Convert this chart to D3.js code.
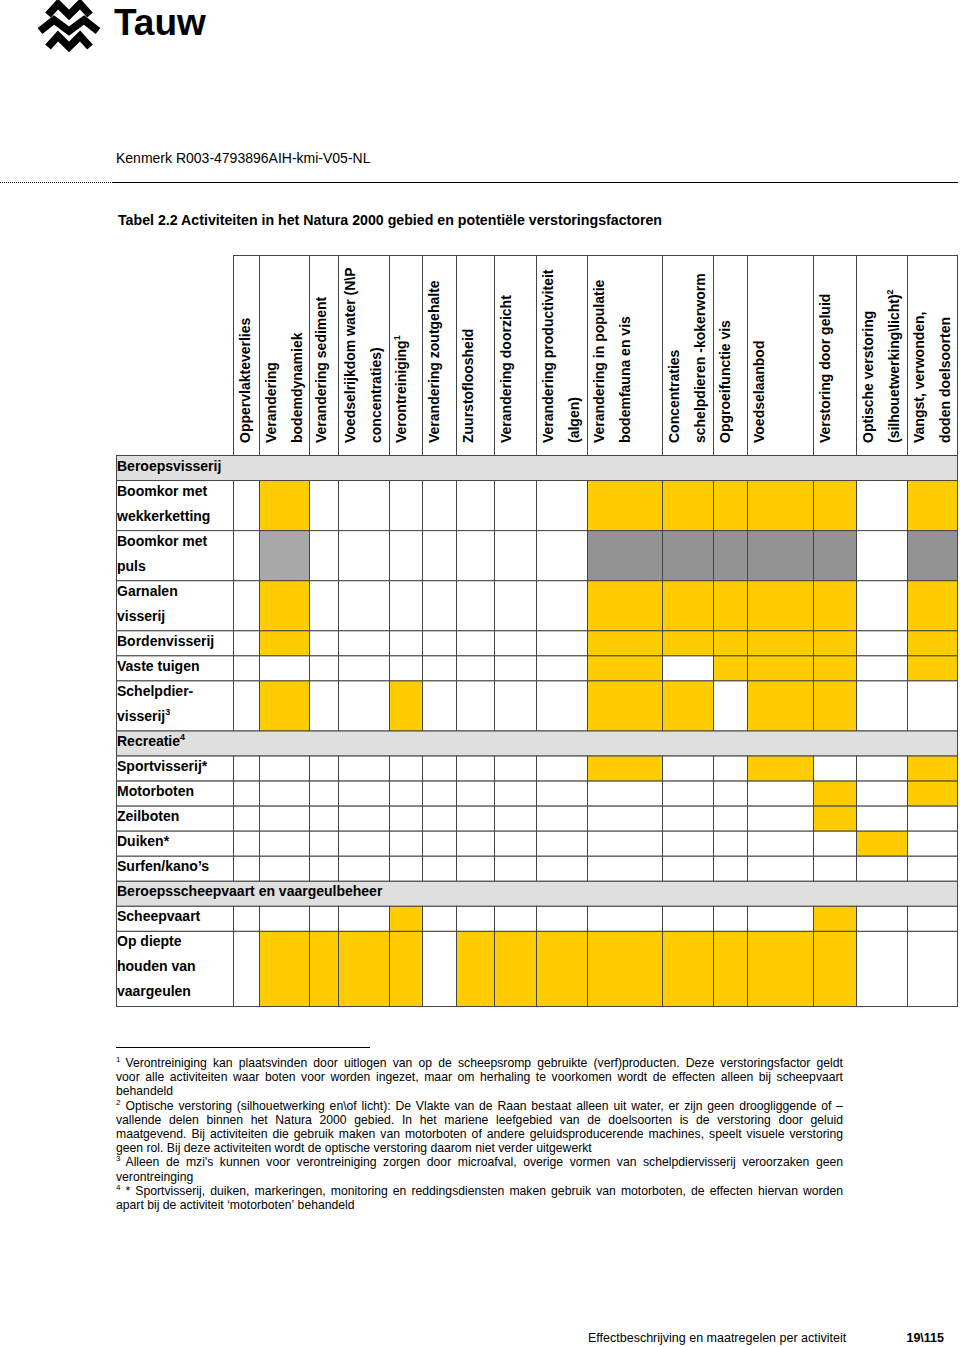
<!DOCTYPE html>
<html>
<head>
<meta charset="utf-8">
<script src="https://cdn.jsdelivr.net/npm/d3@7"></script>
<style>
  body { margin: 0; background: #fff; }
  svg { display: block; font-family: "Liberation Sans", Arial, sans-serif; }
</style>
</head>
<body>
<div id="chart"></div>
<script>
// table data
const factors = [
  ["Oppervlakteverlies"],
  ["Verandering", "bodemdynamiek"],
  ["Verandering sediment"],
  ["Voedselrijkdom water (N\\P", "concentraties)"],
  ["Verontreiniging^1"],
  ["Verandering zoutgehalte"],
  ["Zuurstofloosheid"],
  ["Verandering doorzicht"],
  ["Verandering productiviteit", "(algen)"],
  ["Verandering in populatie", "bodemfauna en vis"],
  ["Concentraties", "schelpdieren -kokerworm"],
  ["Opgroeifunctie vis"],
  ["Voedselaanbod"],
  ["Verstoring door geluid"],
  ["Optische verstoring", "(silhouetwerking\\licht)^2"],
  ["Vangst, verwonden,", "doden doelsoorten"]
];

const activities = [
  ["Beroepsvisserij"],
  ["Boomkor met", "wekkerketting"],
  ["Boomkor met", "puls"],
  ["Garnalen", "visserij"],
  ["Bordenvisserij"],
  ["Vaste tuigen"],
  ["Schelpdier-", "visserij^3"],
  ["Recreatie^4"],
  ["Sportvisserij*"],
  ["Motorboten"],
  ["Zeilboten"],
  ["Duiken*"],
  ["Surfen/kano\u2019s"],
  ["Beroepsscheepvaart en vaargeulbeheer"],
  ["Scheepvaart"],
  ["Op diepte", "houden van", "vaargeulen"]
];

const isGroup = [1, 0, 0, 0, 0, 0, 0, 1, 0, 0, 0, 0, 0, 1, 0, 0];

// 0 = geen, 1 = effect (geel), 2 = effect puls (grijs), 3 = puls bodem (lichtgrijs)
const effects = [
  null,
  [0, 1, 0, 0, 0, 0, 0, 0, 0, 1, 1, 1, 1, 1, 0, 1],
  [0, 3, 0, 0, 0, 0, 0, 0, 0, 2, 2, 2, 2, 2, 0, 2],
  [0, 1, 0, 0, 0, 0, 0, 0, 0, 1, 1, 1, 1, 1, 0, 1],
  [0, 1, 0, 0, 0, 0, 0, 0, 0, 1, 1, 1, 1, 1, 0, 1],
  [0, 0, 0, 0, 0, 0, 0, 0, 0, 1, 0, 1, 1, 1, 0, 1],
  [0, 1, 0, 0, 1, 0, 0, 0, 0, 1, 1, 0, 1, 1, 0, 0],
  null,
  [0, 0, 0, 0, 0, 0, 0, 0, 0, 1, 0, 0, 1, 0, 0, 1],
  [0, 0, 0, 0, 0, 0, 0, 0, 0, 0, 0, 0, 0, 1, 0, 1],
  [0, 0, 0, 0, 0, 0, 0, 0, 0, 0, 0, 0, 0, 1, 0, 0],
  [0, 0, 0, 0, 0, 0, 0, 0, 0, 0, 0, 0, 0, 0, 1, 0],
  [0, 0, 0, 0, 0, 0, 0, 0, 0, 0, 0, 0, 0, 0, 0, 0],
  null,
  [0, 0, 0, 0, 1, 0, 0, 0, 0, 0, 0, 0, 0, 1, 0, 0],
  [0, 1, 1, 1, 1, 0, 1, 1, 1, 1, 1, 1, 1, 1, 0, 0]
];

const footnotes = [
  { sup: "1", lines: [
    "Verontreiniging kan plaatsvinden door uitlogen van op de scheepsromp gebruikte (verf)producten. Deze verstoringsfactor geldt",
    "voor alle activiteiten waar boten voor worden ingezet, maar om herhaling te voorkomen wordt de effecten alleen bij scheepvaart",
    "behandeld"] },
  { sup: "2", lines: [
    "Optische verstoring (silhouetwerking en\\of licht): De Vlakte van de Raan bestaat alleen uit water, er zijn geen droogliggende of \u2013",
    "vallende delen binnen het Natura 2000 gebied. In het mariene leefgebied van de doelsoorten is de verstoring door geluid",
    "maatgevend. Bij activiteiten die gebruik maken van motorboten of andere geluidsproducerende machines, speelt visuele verstoring",
    "geen rol. Bij deze activiteiten wordt de optische verstoring daarom niet verder uitgewerkt"] },
  { sup: "3", lines: [
    "Alleen de mzi's kunnen voor verontreiniging zorgen door microafval, overige vormen van schelpdiervisserij veroorzaken geen",
    "verontreinging"] },
  { sup: "4", lines: [
    "* Sportvisserij, duiken,  markeringen, monitoring en reddingsdiensten maken gebruik van motorboten, de effecten hiervan worden",
    "apart bij de activiteit \u2018motorboten\u2019 behandeld"] }
];

const W = 960, H = 1347;
const fillColor = ["#ffffff", "#ffcc00", "#939393", "#a8a8a8"];
const lineColor = "#454545";

const svg = d3.select("#chart").append("svg")
  .attr("width", W).attr("height", H);

// logo
const logo = svg.append("g");
[3, 19, 35].forEach((y, k) => {
  const w = k === 1 ? 0 : 8;   // middelste rij breder
  logo.append("path")
    .attr("d", `M${40 + w},${y + 12} L${54 + w / 2},${y + 1} L69,${y + 12} L${84 - w / 2},${y + 1} L${98 - w},${y + 12}`)
    .attr("fill", "none").attr("stroke", "#000")
    .attr("stroke-width", 7.5).attr("stroke-linejoin", "miter");
});
logo.append("text").attr("x", 114).attr("y", 35)
  .attr("font-weight", 700)
  .attr("font-size", 37).text("Tauw");

// kop
svg.append("text").attr("x", 116).attr("y", 163).attr("font-size", 14)
  .text("Kenmerk R003-4793896AIH-kmi-V05-NL");
svg.append("line").attr("x1", 0).attr("x2", 112).attr("y1", 182.5).attr("y2", 182.5)
  .attr("stroke", "#000").attr("stroke-dasharray", "1,1");
svg.append("line").attr("x1", 112).attr("x2", 958).attr("y1", 182.5).attr("y2", 182.5)
  .attr("stroke", "#000").attr("stroke-width", 1.2);
svg.append("text").attr("x", 118).attr("y", 225).attr("font-size", 14.2).attr("font-weight", "bold")
  .text("Tabel 2.2 Activiteiten in het Natura 2000 gebied en potenti\u00eble verstoringsfactoren");

// scales
const colEdges = [233.5, 259.5, 309.5, 338.5, 389.5, 422.5, 456.5, 494.5, 536.5, 587.5,
                  662.5, 713.5, 747.5, 813.5, 856.5, 907.5, 957.5];
const xCol = d3.scaleLinear().domain(d3.range(colEdges.length)).range(colEdges);
const labelLeft = 116.5;

const lineCounts = activities.map(a => a.length);
const rowStart = [0, ...d3.cumsum(lineCounts)];
const totalLines = rowStart[rowStart.length - 1];
const yLine = d3.scaleLinear().domain([0, totalLines]).range([455.5, 1006.5]);
const headTop = 255.5, headBottom = 455.5;

// helper for text with ^superscript
function supText(sel, str, supSize, supDy) {
  const parts = str.split("^");
  sel.append("tspan").text(parts[0]);
  if (parts[1]) sel.append("tspan").attr("font-size", supSize).attr("dy", supDy).text(parts[1]);
}

// kopcellen
const head = svg.append("g");
factors.forEach((f, i) => {
  head.append("rect")
    .attr("x", xCol(i)).attr("y", headTop)
    .attr("width", xCol(i + 1) - xCol(i)).attr("height", headBottom - headTop)
    .attr("fill", "#fff").attr("stroke", lineColor);
  f.forEach((ln, j) => {
    const x = xCol(i) + 16 + 26 * j, y = 443;
    const t = head.append("text")
      .attr("x", x).attr("y", y)
      .attr("transform", `rotate(-90,${x},${y})`)
      .attr("font-size", 14).attr("font-weight", "bold");
    supText(t, ln, 9, -6);
  });
});

// rijen
const body = svg.append("g");
activities.forEach((lab, r) => {
  const y0 = yLine(rowStart[r]), y1 = yLine(rowStart[r + 1]);
  if (isGroup[r]) {
    body.append("rect").attr("x", labelLeft).attr("y", y0)
      .attr("width", xCol(16) - labelLeft).attr("height", y1 - y0)
      .attr("fill", "#dfdfdf").attr("stroke", lineColor);
  } else {
    body.append("rect").attr("x", labelLeft).attr("y", y0)
      .attr("width", xCol(0) - labelLeft).attr("height", y1 - y0)
      .attr("fill", "#fff").attr("stroke", lineColor);
    body.selectAll(null)
      .data(effects[r])
      .enter().append("rect")
      .attr("x", (d, c) => xCol(c))
      .attr("y", y0)
      .attr("width", (d, c) => xCol(c + 1) - xCol(c))
      .attr("height", y1 - y0)
      .attr("fill", d => fillColor[d])
      .attr("stroke", lineColor);
  }
  lab.forEach((ln, j) => {
    const t = body.append("text")
      .attr("x", 117).attr("y", y0 + 15 + 25 * j)
      .attr("font-size", 14).attr("font-weight", "bold");
    supText(t, ln, 9, -6);
  });
});

// voetnoten
svg.append("line").attr("x1", 116).attr("x2", 370).attr("y1", 1047.5).attr("y2", 1047.5)
  .attr("stroke", "#000");

const fn = svg.append("g").attr("font-size", 12.2);
const measure = fn.append("text").attr("x", -1000).attr("y", -1000);
function textWidth(s) { measure.text(s); return measure.node().getComputedTextLength(); }
const spaceW = textWidth("a a") - textWidth("aa");

const rightEdge = 843;
let lineNo = 0;
footnotes.forEach(note => {
  note.lines.forEach((ln, j) => {
    const y = 1067 + lineNo * 14.2;
    let x0 = 116;
    if (j === 0) {
      fn.append("text").attr("x", 116).attr("y", y - 5).attr("font-size", 8).text(note.sup);
      x0 = 125.5;
    }
    const words = ln.split(" ").filter(w => w.length);
    const widths = words.map(textWidth);
    const justify = j < note.lines.length - 1;
    const gap = justify ? (rightEdge - x0 - d3.sum(widths)) / (words.length - 1) : spaceW;
    let x = x0;
    words.forEach((w, k) => {
      fn.append("text").attr("x", x).attr("y", y).text(w);
      x += widths[k] + gap;
    });
    lineNo++;
  });
});
measure.remove();

// voettekst
svg.append("text").attr("x", 588).attr("y", 1342).attr("font-size", 12.5)
  .text("Effectbeschrijving en maatregelen per activiteit");
svg.append("text").attr("x", 944).attr("y", 1342).attr("font-size", 12.5)
  .attr("font-weight", "bold").attr("text-anchor", "end").text("19\\115");
</script>
</body>
</html>
